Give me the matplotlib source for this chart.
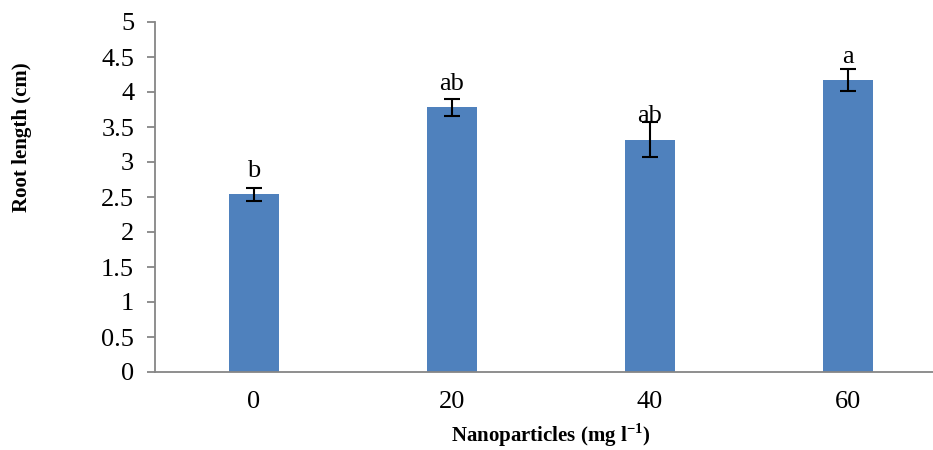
import matplotlib
matplotlib.use('Agg')
import matplotlib.pyplot as plt

plt.rcParams['font.family'] = ['Liberation Serif', 'DejaVu Serif']
plt.rcParams['mathtext.fontset'] = 'custom'
plt.rcParams['mathtext.rm'] = 'Liberation Serif'
plt.rcParams['mathtext.bf'] = 'Liberation Serif:bold'

# data
doses = ['0', '20', '40', '60']
root_length = [2.54, 3.78, 3.32, 4.17]
errors = [0.09, 0.12, 0.25, 0.155]
letters = ['b', 'ab', 'ab', 'a']

W, H = 933, 450
fig = plt.figure(figsize=(W / 100, H / 100), dpi=100)
# axes runs past the right edge like the original
ax = fig.add_axes([155 / W, (H - 372) / H, 792 / W, 350 / H])

x = list(range(len(doses)))
ax.bar(x, root_length, width=0.25, color='#4F81BD', zorder=2)
ax.errorbar(x, root_length, yerr=errors, fmt='none', ecolor='black',
            elinewidth=1.5, capsize=6, capthick=1.5, zorder=3)

for xi, v, lab in zip(x, root_length, letters):
    ax.annotate(lab, (xi, v), xytext=(0, 12.5), textcoords='offset points',
                ha='center', va='baseline', fontsize=19)

ax.set_xlim(-0.5, 3.5)
ax.set_ylim(0, 5)
ax.set_yticks([0, 0.5, 1, 1.5, 2, 2.5, 3, 3.5, 4, 4.5, 5])
ax.set_yticklabels(['0', '0.5', '1', '1.5', '2', '2.5', '3', '3.5', '4', '4.5', '5'])
ax.set_xticks(x)
ax.set_xticklabels(doses)

for s in ['top', 'right']:
    ax.spines[s].set_visible(False)
for s in ['left', 'bottom']:
    ax.spines[s].set_color('#868686')
    ax.spines[s].set_linewidth(1.3)

ax.tick_params(axis='y', direction='out', length=6, width=1.3, color='#868686',
               labelsize=19, pad=9)
ax.tick_params(axis='x', length=0, labelsize=19, pad=14)

ax.set_ylabel('Root length (cm)', fontsize=15, fontweight='bold')
ax.yaxis.set_label_coords(-0.155, 0.67)
fig.text(551 / W, 1 / H, r'Nanoparticles (mg l$^{\mathbf{-1}}$)', ha='center',
         va='bottom', fontsize=15, fontweight='bold')

fig.savefig('out.png', dpi=100)
